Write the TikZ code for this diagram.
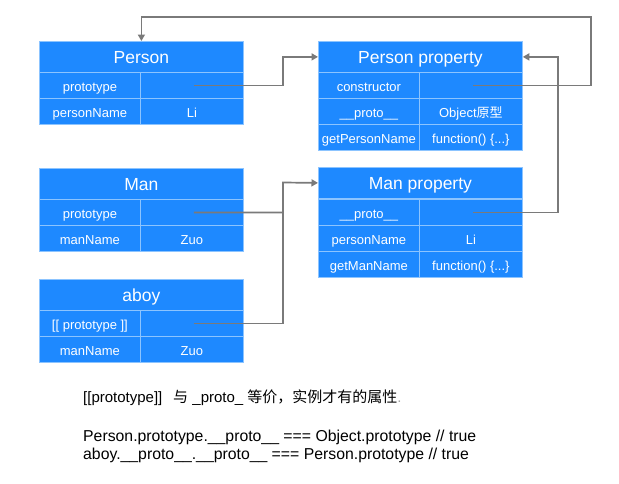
\documentclass[tikz,border=0pt]{standalone}
\usepackage{fontspec}
\setmainfont{Liberation Sans}
\newfontfamily\cjk{Noto Sans CJK SC}
\usetikzlibrary{arrows.meta}

\definecolor{tblue}{RGB}{30,137,255}
\definecolor{tline}{RGB}{140,196,255}
\definecolor{arrgray}{RGB}{122,122,122}

\tikzset{
    hdr/.style={fill=tblue, draw=tline, line width=0.8pt, text=white, anchor=north west,
        minimum width=204pt, minimum height=31pt, inner sep=0pt,
        text height=13.4pt, text depth=0pt, font=\fontsize{17.5}{20}\selectfont},
    keycell/.style={fill=tblue, draw=tline, line width=0.8pt, text=white, anchor=north west,
        minimum width=101pt, minimum height=26pt, inner sep=0pt,
        text height=11.4pt, text depth=0pt, font=\fontsize{13}{15}\selectfont},
    valcell/.style={keycell, minimum width=103pt},
    conn/.style={draw=arrgray, line width=1.7pt},
    connarr/.style={conn, -{Triangle[length=6.5pt,width=7pt]}},
    note/.style={anchor=west, inner sep=0pt, font=\fontsize{15.8}{18}\selectfont}
}

\begin{document}
\begin{tikzpicture}[x=1pt,y=-1pt]
    \useasboundingbox (0,0) rectangle (619,483);

    % table heads
    \foreach \name/\x/\y/\title in {person/39/41/Person, man/39/168/Man, aboy/39/279/aboy,
        pprop/318/41/Person property, mprop/318/167/Man property} {
        \node[hdr] (\name) at (\x,\y) {\title};
    }

    % table rows
    \foreach \name/\x/\y/\k/\v in {
        person1/39/72/prototype/{}, person2/39/98/personName/Li,
        man1/39/199/prototype/{}, man2/39/225/manName/Zuo,
        aboy1/39/310/{[[ prototype ]]}/{}, aboy2/39/336/manName/Zuo,
        pp1/318/72/constructor/{}, pp2/318/98/\_\_proto\_\_/{Object{\cjk 原型}},
        pp3/318/124/getPersonName/{function() \{...\}},
        mp1/318/199/\_\_proto\_\_/{}, mp2/318/225/personName/Li,
        mp3/318/251/getManName/{function() \{...\}}} {
        \node[keycell] (\name-k) at (\x,\y) {\k};
        \node[valcell] (\name-v) at (\x+101,\y) {\v};
    }

    % prototype links
    \draw[connarr] ([xshift=2pt]person1-v.center) -- ++(89,0) |- (pprop.west);
    \draw[connarr] ([xshift=2pt]pp1-v.center) -| (591,17) -| (person.north);
    \draw[connarr] ([xshift=2pt]mp1-v.center) -| ([xshift=35pt]pprop.east) -- (pprop.east);
    \coordinate (bus) at (283,182.5);
    \draw[connarr] ([xshift=2pt]man1-v.center) -| (bus) -- (mprop.west);
    \draw[conn] ([xshift=2pt]aboy1-v.center) -| (bus);

    % notes
    \node[note] (n1) at (83,398) {\fontsize{15}{18}\selectfont[[prototype]]\ \ \,{\cjk 与} \_proto\_ {\cjk 等价，实例才有的属性}{\color{black!35}.}};
    \node[note] (n2) at (83,437) {Person.prototype.\_\_proto\_\_ === Object.prototype // true};
    \node[note] (n3) at (83,455) {aboy.\_\_proto\_\_.\_\_proto\_\_ === Person.prototype // true};
\end{tikzpicture}
\end{document}
